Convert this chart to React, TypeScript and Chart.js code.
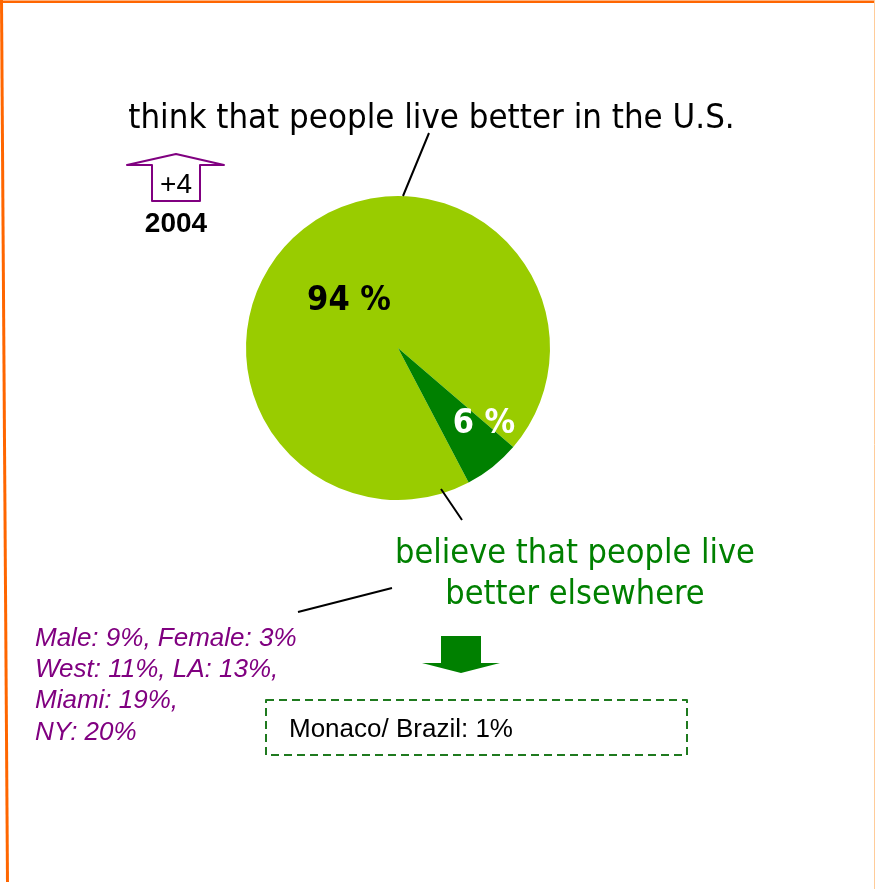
import React, { useEffect, useRef } from "react";
import { Chart, registerables } from "chart.js";

Chart.register(...registerables);

const categories = [
  "think that people live better in the U.S.",
  "believe that people live better elsewhere",
];
const values = [94, 6];
const sliceColors = ["#99CC00", "#008000"];
const labelColors = ["#000000", "#FFFFFF"];
const elsewhereLines = ["believe that people live", "better elsewhere"];
const breakdownLines = [
  "Male: 9%, Female: 3%",
  "West: 11%, LA: 13%,",
  "Miami: 19%,",
  "NY: 20%",
];
const changeText = "+4";
const changeYear = "2004";
const destinationText = "Monaco/ Brazil: 1%";

const W = 875;
const H = 889;

const decor = {
  id: "decor",
  afterDraw(chart: any) {
    const ctx = chart.ctx as CanvasRenderingContext2D;
    const meta = chart.getDatasetMeta(0);
    ctx.save();
    ctx.lineJoin = "round";

    // page frame
    ctx.fillStyle = "#FF6600";
    ctx.fillRect(0, 0.5, W, 2.5);
    ctx.strokeStyle = "#FF6600";
    ctx.lineWidth = 3;
    ctx.beginPath();
    ctx.moveTo(1.5, 0);
    ctx.lineTo(7.5, 882);
    ctx.stroke();
    ctx.strokeStyle = "#FFCC99";
    ctx.lineWidth = 1;
    ctx.beginPath();
    ctx.moveTo(874.5, 0);
    ctx.lineTo(874.5, H);
    ctx.stroke();

    // slice percentage labels
    const placements = [
      { da: -8, rf: 0.444 },
      { da: -9.8, rf: 0.757 },
    ];
    meta.data.forEach((arc: any, i: number) => {
      const p = arc.getProps(["x", "y", "startAngle", "endAngle", "outerRadius"], true);
      const mid = (p.startAngle + p.endAngle) / 2 + (placements[i].da * Math.PI) / 180;
      const r = p.outerRadius * placements[i].rf;
      const x = p.x + Math.cos(mid) * r;
      const y = p.y + Math.sin(mid) * r;
      ctx.font = "bold 34px 'DejaVu Sans Condensed', 'DejaVu Sans', sans-serif";
      ctx.fillStyle = labelColors[i];
      ctx.textAlign = "center";
      ctx.textBaseline = "middle";
      ctx.fillText(`${values[i]} %`, x, y);
    });

    // title
    ctx.textBaseline = "alphabetic";
    ctx.textAlign = "center";
    ctx.fillStyle = "#000000";
    ctx.font = "34.5px 'DejaVu Sans Condensed', 'DejaVu Sans', sans-serif";
    ctx.fillText(categories[0], 431.5, 128);

    // green caption
    ctx.fillStyle = "#008000";
    ctx.font = "34px 'DejaVu Sans Condensed', 'DejaVu Sans', sans-serif";
    ctx.fillText(elsewhereLines[0], 575, 563);
    ctx.fillText(elsewhereLines[1], 575, 604);

    // leader lines
    ctx.strokeStyle = "#000000";
    ctx.lineWidth = 2;
    ctx.beginPath();
    ctx.moveTo(429, 133);
    ctx.lineTo(403, 196);
    ctx.moveTo(441, 489);
    ctx.lineTo(462, 520);
    ctx.moveTo(298, 612);
    ctx.lineTo(392, 588);
    ctx.stroke();

    // purple breakdown text
    ctx.textAlign = "left";
    ctx.fillStyle = "#800080";
    ctx.font = "italic 26px 'Liberation Sans', Arial, sans-serif";
    const bl = [646, 677, 708, 740];
    breakdownLines.forEach((t, i) => ctx.fillText(t, 35, bl[i]));

    // purple up arrow
    ctx.strokeStyle = "#800080";
    ctx.lineWidth = 2;
    ctx.beginPath();
    ctx.moveTo(152, 201);
    ctx.lineTo(152, 165);
    ctx.lineTo(127, 165);
    ctx.lineTo(176, 154);
    ctx.lineTo(224, 165);
    ctx.lineTo(200, 165);
    ctx.lineTo(200, 201);
    ctx.closePath();
    ctx.stroke();
    ctx.fillStyle = "#000000";
    ctx.textAlign = "center";
    ctx.font = "28px 'Liberation Sans', Arial, sans-serif";
    ctx.fillText(changeText, 176, 193);
    ctx.font = "bold 28px 'Liberation Sans', Arial, sans-serif";
    ctx.fillText(changeYear, 176, 232);

    // green down arrow
    ctx.fillStyle = "#008000";
    ctx.beginPath();
    ctx.moveTo(441, 636);
    ctx.lineTo(481, 636);
    ctx.lineTo(481, 663);
    ctx.lineTo(500, 663);
    ctx.lineTo(461, 673);
    ctx.lineTo(422, 663);
    ctx.lineTo(441, 663);
    ctx.closePath();
    ctx.fill();

    // dashed box
    ctx.strokeStyle = "#1F7A1F";
    ctx.lineWidth = 2;
    ctx.setLineDash([8, 5]);
    ctx.strokeRect(266, 700, 421, 55);
    ctx.setLineDash([]);
    ctx.fillStyle = "#000000";
    ctx.textAlign = "left";
    ctx.font = "26px 'Liberation Sans', Arial, sans-serif";
    ctx.fillText(destinationText, 289, 737);

    ctx.restore();
  },
};

export default function App() {
  const ref = useRef<HTMLCanvasElement>(null);
  useEffect(() => {
    document.body.style.margin = "0";
    document.body.style.overflow = "hidden";
    const cx = 398;
    const cy = 348;
    const r = 152;
    const chart = new Chart(ref.current!, {
      type: "pie",
      data: {
        labels: categories,
        datasets: [
          {
            data: values,
            backgroundColor: sliceColors,
            borderWidth: 0,
            hoverOffset: 0,
          },
        ],
      },
      options: {
        responsive: false,
        animation: false,
        rotation: 152.3,
        layout: {
          padding: {
            left: cx - r,
            right: W - (cx + r),
            top: cy - r,
            bottom: H - (cy + r),
          },
        },
        plugins: {
          legend: { display: false },
          tooltip: { enabled: false },
          title: { display: false },
        },
      },
      plugins: [decor],
    });
    return () => chart.destroy();
  }, []);
  return (
    <div style={{ width: W, height: H, background: "#fff" }}>
      <canvas ref={ref} width={W} height={H} style={{ display: "block" }} />
    </div>
  );
}
